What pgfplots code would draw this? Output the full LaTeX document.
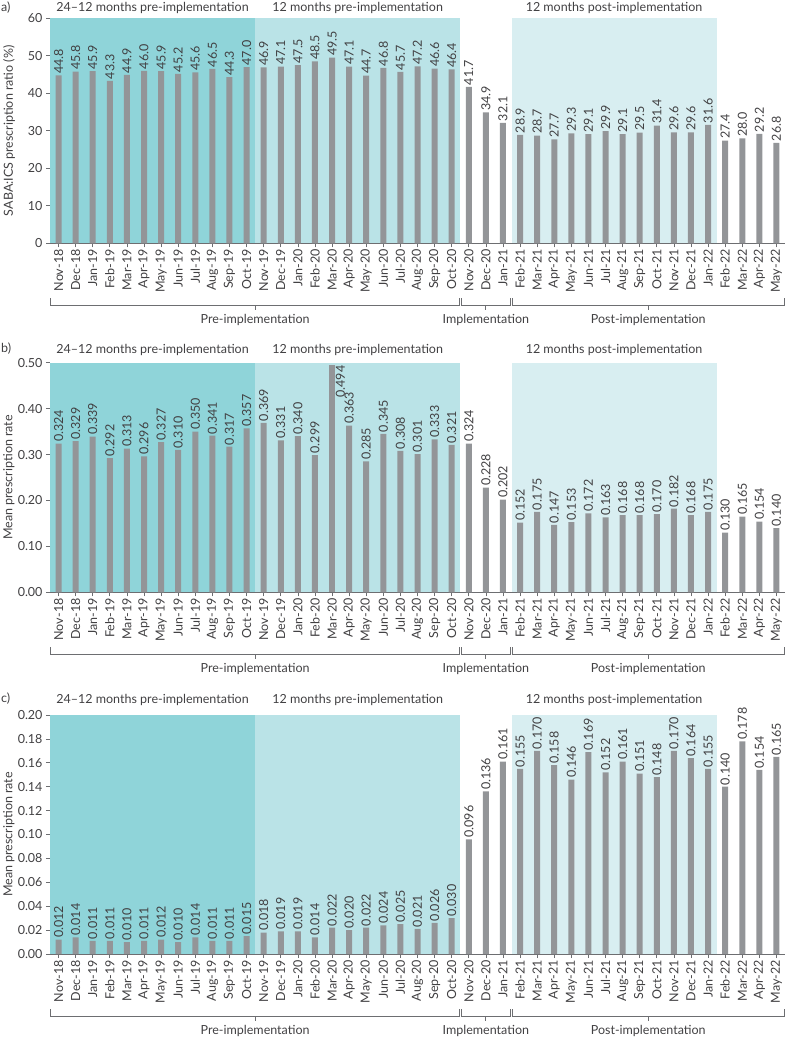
\documentclass[border=0pt]{standalone}
\usepackage{pgfplots}
\pgfplotsset{compat=1.18}
\usepackage{fontspec}
\setmainfont{Lato}
\definecolor{shadeA}{HTML}{8FD4D9}
\definecolor{shadeB}{HTML}{BAE3E7}
\definecolor{shadeC}{HTML}{D8EEF1}
\definecolor{bargray}{HTML}{939598}
\definecolor{axisgray}{HTML}{6D6E71}
\definecolor{txt}{HTML}{414042}
\newcommand{\lbl}{\fontsize{12.5}{13}\selectfont}

\pgfplotsset{
  panel/.style={
    scale only axis, width=735pt,
    xmin=-0.5, xmax=42.5, ymin=0,
    axis lines=left,
    axis line style={-, draw=axisgray, line width=0.9pt},
    tick style={draw=axisgray, line width=0.7pt},
    tick align=outside, major tick length=4pt,
    xtick={0,...,42},
    xticklabels={Nov-18,Dec-18,Jan-19,Feb-19,Mar-19,Apr-19,May-19,Jun-19,Jul-19,Aug-19,Sep-19,Oct-19,
      Nov-19,Dec-19,Jan-20,Feb-20,Mar-20,Apr-20,May-20,Jun-20,Jul-20,Aug-20,Sep-20,Oct-20,
      Nov-20,Dec-20,Jan-21,Feb-21,Mar-21,Apr-21,May-21,Jun-21,Jul-21,Aug-21,Sep-21,Oct-21,
      Nov-21,Dec-21,Jan-22,Feb-22,Mar-22,Apr-22,May-22},
    x tick label style={rotate=90, anchor=east, font=\lbl, text=txt, inner sep=2pt},
    y tick label style={font=\lbl, text=txt},
    /pgf/number format/assume math mode=true,
    ylabel style={at={(axis description cs:-0.0558,0.5)}, rotate=0,
      anchor=center, font=\lbl, text=txt},
    clip=false,
  },
  bars/.style={ybar, bar width=6pt, bar shift=0pt, fill=bargray, draw=none},
  vals/.style={nodes near coords={\pgfmathprintnumber[fixed, fixed zerofill, precision=#1, assume math mode=true]{\pgfplotspointmeta}},
    every node near coord/.append style={rotate=90, anchor=west, font=\lbl, text=txt, inner sep=1.5pt}},
}

% shaded periods and titles above the plot area
\newcommand{\shades}[2]{%
  \fill[shadeA] (axis cs:-0.5,0) rectangle (axis cs:11.5,#1);
  \fill[shadeB] (axis cs:11.5,0) rectangle (axis cs:23.5,#1);
  \fill[shadeC] (axis cs:26.5,0) rectangle (axis cs:38.5,#1);
  \node[font=\lbl, text=txt] at ([yshift=#2]axis cs:5.5,#1) {24–12 months pre-implementation};
  \node[font=\lbl, text=txt] at ([yshift=#2]axis cs:17.5,#1) {12 months pre-implementation};
  \node[font=\lbl, text=txt] at ([yshift=#2]axis cs:32.5,#1) {12 months post-implementation};
}
% period brackets under the month labels
\newcommand{\brackets}{%
  \draw[axisgray, line width=0.8pt] ([yshift=-55pt]axis cs:-0.5,0) |- ([yshift=-62pt]axis cs:23.45,0) -- ++(0pt,7pt);
  \draw[axisgray, line width=0.8pt] ([yshift=-55pt]axis cs:23.58,0) |- ([yshift=-62pt]axis cs:26.45,0) -- ++(0pt,7pt);
  \draw[axisgray, line width=0.8pt] ([yshift=-55pt]axis cs:26.58,0) |- ([yshift=-62pt]axis cs:42.45,0) -- ++(0pt,7pt);
  \draw[axisgray, line width=0.8pt] ([yshift=-62pt]axis cs:11.5,0) -- ++(0pt,-5pt);
  \draw[axisgray, line width=0.8pt] ([yshift=-62pt]axis cs:25,0) -- ++(0pt,-5pt);
  \draw[axisgray, line width=0.8pt] ([yshift=-62pt]axis cs:34.5,0) -- ++(0pt,-5pt);
  \node[font=\lbl, text=txt] at ([yshift=-77pt]axis cs:11.5,0) {Pre-implementation};
  \node[font=\lbl, text=txt] at ([yshift=-77pt]axis cs:25,0) {Implementation};
  \node[font=\lbl, text=txt] at ([yshift=-77pt]axis cs:34.5,0) {Post-implementation};
}

\begin{document}
\begin{tikzpicture}
\useasboundingbox (0,0) rectangle (786pt,-1040pt);

% ---------- a) ----------
\begin{axis}[panel, at={(50pt,-243.3pt)}, anchor=south west, height=225pt,
  ymax=60, ytick={0,10,...,60},
  ylabel={SABA{:}ICS prescription ratio (\%)}]
\shades{60}{10pt}
\addplot[bars, vals=1] coordinates {
(0,44.8) (1,45.8) (2,45.9) (3,43.3) (4,44.9) (5,46.0) (6,45.9) (7,45.2) (8,45.6) (9,46.5) (10,44.3) (11,47.0)
(12,46.9) (13,47.1) (14,47.5) (15,48.5) (16,49.5) (17,47.1) (18,44.7) (19,46.8) (20,45.7) (21,47.2) (22,46.6) (23,46.4)
(24,41.7) (25,34.9) (26,32.1)
(27,28.9) (28,28.7) (29,27.7) (30,29.3) (31,29.1) (32,29.9) (33,29.1) (34,29.5) (35,31.4) (36,29.6) (37,29.6) (38,31.6)
(39,27.4) (40,28.0) (41,29.2) (42,26.8)
};
\brackets
\end{axis}

% ---------- b) ----------
\begin{axis}[panel, at={(50pt,-592.3pt)}, anchor=south west, height=229.6pt,
  ymax=0.5, ytick={0,0.1,0.2,0.3,0.4,0.5},
  yticklabel style={/pgf/number format/fixed, /pgf/number format/fixed zerofill, /pgf/number format/precision=2},
  ylabel={Mean prescription rate}]
\shades{0.5}{13pt}
\addplot[bars, vals=3] coordinates {
(0,0.324) (1,0.329) (2,0.339) (3,0.292) (4,0.313) (5,0.296) (6,0.327) (7,0.310) (8,0.350) (9,0.341) (10,0.317) (11,0.357)
(12,0.369) (13,0.331) (14,0.340) (15,0.299) (17,0.363) (18,0.285) (19,0.345) (20,0.308) (21,0.301) (22,0.333) (23,0.321)
(24,0.324) (25,0.228) (26,0.202)
(27,0.152) (28,0.175) (29,0.147) (30,0.153) (31,0.172) (32,0.163) (33,0.168) (34,0.168) (35,0.170) (36,0.182) (37,0.168) (38,0.175)
(39,0.130) (40,0.165) (41,0.154) (42,0.140)
};
\addplot[bars] coordinates {(16,0.494)};
\node[rotate=90, anchor=north east, font=\lbl, text=txt, inner sep=1pt] at ([xshift=2.5pt]axis cs:16,0.496) {0.494};
\brackets
\end{axis}

% ---------- c) ----------
\begin{axis}[panel, at={(50pt,-954pt)}, anchor=south west, height=239pt,
  ymax=0.2, ytick={0,0.02,0.04,0.06,0.08,0.10,0.12,0.14,0.16,0.18,0.20},
  yticklabel style={/pgf/number format/fixed, /pgf/number format/fixed zerofill, /pgf/number format/precision=2},
  ylabel={Mean prescription rate}]
\shades{0.2}{15pt}
\addplot[bars, vals=3] coordinates {
(0,0.012) (1,0.014) (2,0.011) (3,0.011) (4,0.010) (5,0.011) (6,0.012) (7,0.010) (8,0.014) (9,0.011) (10,0.011) (11,0.015)
(12,0.018) (13,0.019) (14,0.019) (15,0.014) (16,0.022) (17,0.020) (18,0.022) (19,0.024) (20,0.025) (21,0.021) (22,0.026) (23,0.030)
(24,0.096) (25,0.136) (26,0.161)
(27,0.155) (28,0.170) (29,0.158) (30,0.146) (31,0.169) (32,0.152) (33,0.161) (34,0.151) (35,0.148) (36,0.170) (37,0.164) (38,0.155)
(39,0.140) (40,0.178) (41,0.154) (42,0.165)
};
\brackets
\end{axis}

\node[anchor=west, font=\lbl, text=txt, inner sep=0pt] at (1pt,-8pt) {a)};
\node[anchor=west, font=\lbl, text=txt, inner sep=0pt] at (1pt,-349pt) {b)};
\node[anchor=west, font=\lbl, text=txt, inner sep=0pt] at (1pt,-699pt) {c)};
\end{tikzpicture}
\end{document}
